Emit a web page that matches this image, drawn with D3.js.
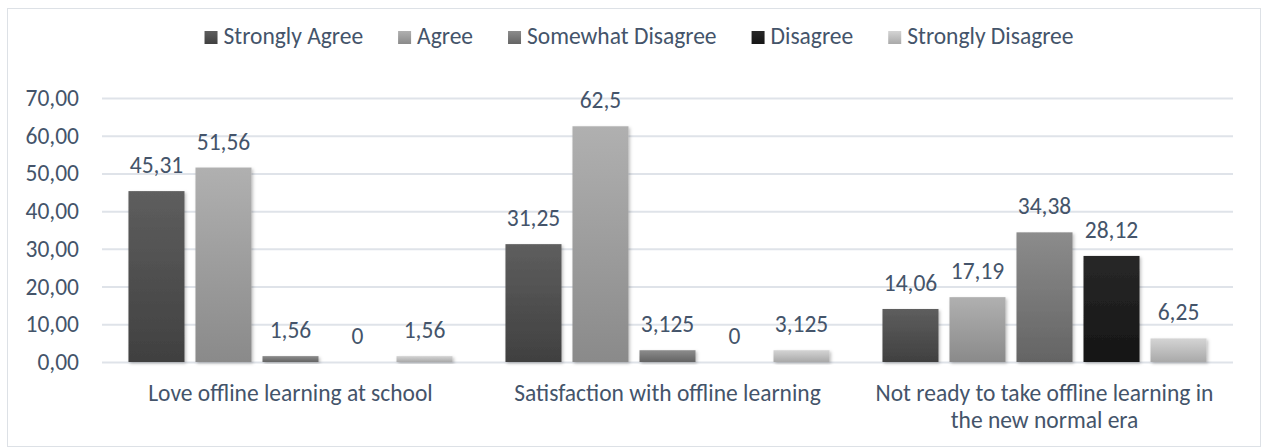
<!DOCTYPE html>
<html>
<head>
<meta charset="utf-8">
<script src="https://cdn.jsdelivr.net/npm/d3@7"></script>
<style>
  body { margin: 0; background: #fff; }
  svg text { font-family: Carlito, Calibri, Lato, sans-serif; fill: #44546a; }
</style>
</head>
<body>
<div id="chart"></div>
<script>
const categories = [
  'Love offline learning at school',
  'Satisfaction with offline learning',
  'Not ready to take offline learning in the new normal era'
];
const categoryLines = [
  ['Love offline learning at school'],
  ['Satisfaction with offline learning'],
  ['Not ready to take offline learning in', 'the new normal era']
];
const seriesNames = ['Strongly Agree', 'Agree', 'Somewhat Disagree', 'Disagree', 'Strongly Disagree'];
const stronglyAgree = [45.31, 31.25, 14.06];
const agree = [51.56, 62.5, 17.19];
const somewhatDisagree = [1.56, 3.125, 34.38];
const disagree = [0, 0, 28.12];
const stronglyDisagree = [1.56, 3.125, 6.25];
const yTicks = [0, 10, 20, 30, 40, 50, 60, 70];

const seriesValues = [stronglyAgree, agree, somewhatDisagree, disagree, stronglyDisagree];
// gradient stops top -> bottom
const seriesGrad = [
  ['#5e5e5e', '#404040'],
  ['#b0b0b0', '#8a8a8a'],
  ['#8c8c8c', '#646464'],
  ['#282828', '#151515'],
  ['#d4d4d4', '#a9a9a9']
];

const width = 1263, height = 448;
const margin = {top: 98, right: 30, bottom: 86, left: 102};
const fontSize = '23.5px';

const svg = d3.select('#chart').append('svg')
  .attr('width', width)
  .attr('height', height);

const defs = svg.append('defs');
seriesGrad.forEach((g, i) => {
  const lg = defs.append('linearGradient')
    .attr('id', 'grad' + i)
    .attr('x1', 0).attr('y1', 0).attr('x2', 0).attr('y2', 1);
  lg.append('stop').attr('offset', '0%').attr('stop-color', g[0]);
  lg.append('stop').attr('offset', '100%').attr('stop-color', g[1]);
});
defs.append('filter')
  .attr('id', 'shadow')
  .attr('x', '-20%').attr('y', '-20%').attr('width', '140%').attr('height', '140%')
  .append('feDropShadow')
    .attr('dx', 1.5).attr('dy', 1.5).attr('stdDeviation', 1.5)
    .attr('flood-color', '#000').attr('flood-opacity', 0.25);

// chart frame
svg.append('rect')
  .attr('x', 7.5).attr('y', 8.5)
  .attr('width', 1253).attr('height', 438)
  .attr('fill', '#fff')
  .attr('stroke', '#dde1e6')
  .attr('stroke-width', 1);

const x0 = d3.scaleBand()
  .domain(categories)
  .range([margin.left, width - margin.right]);

const x1 = d3.scaleBand()
  .domain(seriesNames)
  .range([0, x0.bandwidth()])
  .paddingInner(0.164)
  .paddingOuter(0.395);

const y = d3.scaleLinear()
  .domain([0, 70])
  .range([height - margin.bottom, margin.top]);

// gridlines
svg.append('g')
  .selectAll('line')
  .data(yTicks)
  .join('line')
    .attr('x1', margin.left)
    .attr('x2', width - margin.right)
    .attr('y1', d => y(d) + 0.5)
    .attr('y2', d => y(d) + 0.5)
    .attr('stroke', '#dfe3e9')
    .attr('stroke-width', 2);

// y axis labels
const yAxis = svg.append('g')
  .attr('transform', `translate(${margin.left - 23},0)`)
  .call(d3.axisLeft(y).tickValues(yTicks).tickSize(0).tickPadding(0)
    .tickFormat(d => d3.format('.2f')(d).replace('.', ',')));
yAxis.select('.domain').remove();
yAxis.selectAll('text')
  .style('font-size', fontSize)
  .attr('fill', '#44546a');

// bars
const groups = svg.append('g')
  .selectAll('g')
  .data(categories)
  .join('g')
    .attr('transform', d => `translate(${x0(d)},0)`);

groups.selectAll('rect')
  .data((c, ci) => seriesNames.map((s, si) => ({s, si, v: seriesValues[si][ci]})))
  .join('rect')
    .attr('x', d => x1(d.s))
    .attr('width', x1.bandwidth())
    .attr('y', d => y(d.v))
    .attr('height', d => y(0) - y(d.v))
    .attr('fill', d => `url(#grad${d.si})`)
    .attr('filter', 'url(#shadow)');

groups.selectAll('text.val')
  .data((c, ci) => seriesNames.map((s, si) => ({s, si, v: seriesValues[si][ci]})))
  .join('text')
    .attr('class', 'val')
    .attr('x', d => x1(d.s) + x1.bandwidth() / 2)
    .attr('y', d => y(d.v) - 18)
    .attr('text-anchor', 'middle')
    .style('font-size', fontSize)
    .text(d => String(d.v).replace('.', ','));

// category labels
svg.append('g')
  .selectAll('text')
  .data(categories)
  .join('text')
    .attr('x', d => x0(d) + x0.bandwidth() / 2)
    .attr('y', 401)
    .attr('text-anchor', 'middle')
    .style('font-size', fontSize)
    .each(function(d, i) {
      d3.select(this).selectAll('tspan')
        .data(categoryLines[i])
        .join('tspan')
          .attr('x', x0(d) + x0.bandwidth() / 2)
          .attr('dy', (t, j) => j === 0 ? 0 : 27)
          .text(t => t);
    });

// legend
const legend = svg.append('g');
const items = legend.selectAll('g')
  .data(seriesNames)
  .join('g');
items.append('rect')
  .attr('width', 13).attr('height', 13)
  .attr('y', 31)
  .attr('fill', (d, i) => `url(#grad${i})`);
items.append('text')
  .attr('x', 19)
  .attr('y', 44)
  .style('font-size', fontSize)
  .text(d => d);
let lx = 0;
const gap = 35;
items.each(function() {
  const w = this.getBBox().width;
  d3.select(this).attr('transform', `translate(${lx},0)`);
  lx += w + gap;
});
const totalW = lx - gap;
legend.attr('transform', `translate(${639 - totalW / 2},0)`);
</script>
</body>
</html>
